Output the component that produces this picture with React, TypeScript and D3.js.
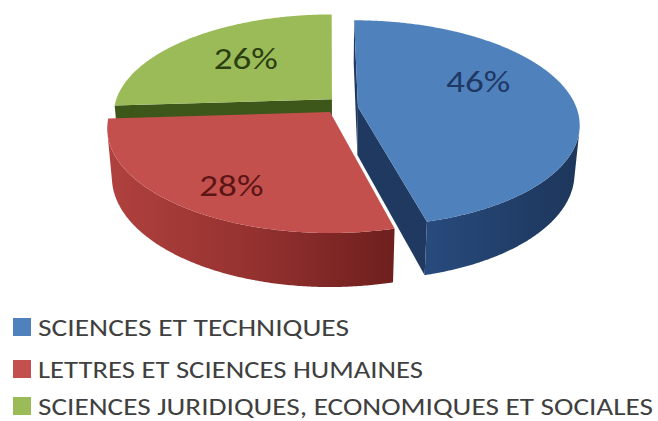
import React from "react";
import * as d3 from "d3";

// ---------- data ----------
const categories = [
  "SCIENCES ET TECHNIQUES",
  "LETTRES ET SCIENCES HUMAINES",
  "SCIENCES JURIDIQUES, ECONOMIQUES ET SOCIALES",
];
const values = [46, 28, 26];
const labelTexts = ["46%", "28%", "26%"];

// ---------- style ----------
const topColors = ["#4f81bd", "#c4504d", "#9bbb59"];
const faceColors = ["#1f3961", "#7a2321", "#3c5719"];
const wallStops = [
  ["#284b7e", "#22406b", "#1d365b"],
  ["#b0413e", "#953230", "#6e1f1e"],
  ["#5a7a2a", "#4a6822", "#3c5719"],
];
const labelColors = ["#1f3864", "#5c1515", "#2b3f10"];
const legendTextLen = [311, 385, 615];

// ---------- layout ----------
const W = 658;
const H = 421;
const CX = 330;
const CY = 112;
const F = 1234;
const DIST = 5.61;
const ALPHA_DEG = 27.6;
const DEPTH = 0.252;
const offsets: [number, number][] = [
  [0.128, 0.049],
  [0, 0],
  [0.009, 0.128],
];
const labelAngleShiftDeg = [-17, -4, 3];
const labelRadius = [0.635, 0.76, 0.616];

export default function App() {
  const arcs = d3
    .pie<number>()
    .sort(null)
    .value((d) => d)
    .startAngle(0)
    .endAngle(2 * Math.PI)(values);

  const rad = (ALPHA_DEG * Math.PI) / 180;
  const sa = Math.sin(rad);
  const ca = Math.cos(rad);
  const proj = (X: number, Y: number, Z: number): [number, number] => {
    const up = Z * ca + Y * sa;
    const dep = DIST + Y * ca - Z * sa;
    return [CX + (F * X) / dep, CY - (F * up) / dep];
  };
  const camY = -DIST * ca;
  const line = d3.line<[number, number]>();
  const closed = (pts: [number, number][]) => (line(pts) || "") + "Z";

  const slices = arcs.map((p, i) => {
    const a0 = p.startAngle;
    const a1 = p.endAngle;
    const [ox, oy] = offsets[i];
    const pt = (t: number, z: number) => proj(ox + Math.sin(t), oy + Math.cos(t), z);
    const n = Math.ceil((a1 - a0) / (Math.PI / 360));
    const ts = d3.range(n + 1).map((k) => a0 + ((a1 - a0) * k) / n);

    const top = closed([proj(ox, oy, 0), ...ts.map((t) => pt(t, 0))]);

    // radial faces
    const faces: string[] = [];
    const faceDefs: [number, number, number][] = [
      [a0, -Math.cos(a0), Math.sin(a0)],
      [a1, Math.cos(a1), -Math.sin(a1)],
    ];
    faceDefs.forEach(([a, nx, ny]) => {
      const vis = -ox * nx + (camY - oy) * ny;
      if (vis > 0) {
        faces.push(
          closed([proj(ox, oy, 0), pt(a, 0), pt(a, -DEPTH), proj(ox, oy, -DEPTH)])
        );
      }
    });

    // outer wall: visible runs
    const visible = ts.map((t) => {
      const X = ox + Math.sin(t);
      const Y = oy + Math.cos(t);
      return -X * Math.sin(t) + (camY - Y) * Math.cos(t) > 0;
    });
    const walls: string[] = [];
    let run: number[] = [];
    const flush = () => {
      if (run.length > 1) {
        const tops = run.map((t) => pt(t, 0));
        const bots = run.map((t) => pt(t, -DEPTH)).reverse();
        walls.push(closed([...tops, ...bots]));
      }
      run = [];
    };
    ts.forEach((t, k) => {
      if (visible[k]) run.push(t);
      else flush();
    });
    flush();

    const mid = (a0 + a1) / 2 + (labelAngleShiftDeg[i] * Math.PI) / 180;
    const r = labelRadius[i];
    const lp = proj(ox + r * Math.sin(mid), oy + r * Math.cos(mid), 0);

    return { i, top, faces, walls, lp, depthKey: Math.cos((a0 + a1) / 2) };
  });

  const order = [...slices].sort((a, b) => b.depthKey - a.depthKey);

  const legendBaselines = [336, 378, 415];

  return (
    <svg
      width={W}
      height={H}
      style={{ position: "absolute", left: 0, top: 0, background: "#ffffff" }}
    >
      <defs>
        {wallStops.map((stops, i) => (
          <linearGradient key={i} id={`wall${i}`} x1="0" x2="1" y1="0" y2="0">
            <stop offset="0" stopColor={stops[0]} />
            <stop offset="0.5" stopColor={stops[1]} />
            <stop offset="1" stopColor={stops[2]} />
          </linearGradient>
        ))}
      </defs>
      <rect x={0} y={0} width={W} height={H} fill="#ffffff" />
      {order.map((s) => (
        <g key={s.i}>
          {s.faces.map((d, k) => (
            <path key={"f" + k} d={d} fill={faceColors[s.i]} />
          ))}
          {s.walls.map((d, k) => (
            <path key={"w" + k} d={d} fill={`url(#wall${s.i})`} />
          ))}
          <path d={s.top} fill={topColors[s.i]} />
        </g>
      ))}
      {slices.map((s) => (
        <text
          key={"l" + s.i}
          x={s.lp[0]}
          y={s.lp[1]}
          dy="0.35em"
          textAnchor="middle"
          fontFamily="Carlito, Lato, 'Liberation Sans', sans-serif"
          fontSize={30}
          fill={labelColors[s.i]}
          textLength={64}
          lengthAdjust="spacingAndGlyphs"
        >
          {labelTexts[s.i]}
        </text>
      ))}
      {categories.map((c, i) => (
        <g key={"lg" + i}>
          <rect x={13} y={legendBaselines[i] - 18} width={18} height={18} fill={topColors[i]} />
          <text
            x={38}
            y={legendBaselines[i]}
            fontFamily="Carlito, Lato, 'Liberation Sans', sans-serif"
            fontSize={25}
            fill="#404040"
            textLength={legendTextLen[i]}
            lengthAdjust="spacingAndGlyphs"
          >
            {c}
          </text>
        </g>
      ))}
    </svg>
  );
}
